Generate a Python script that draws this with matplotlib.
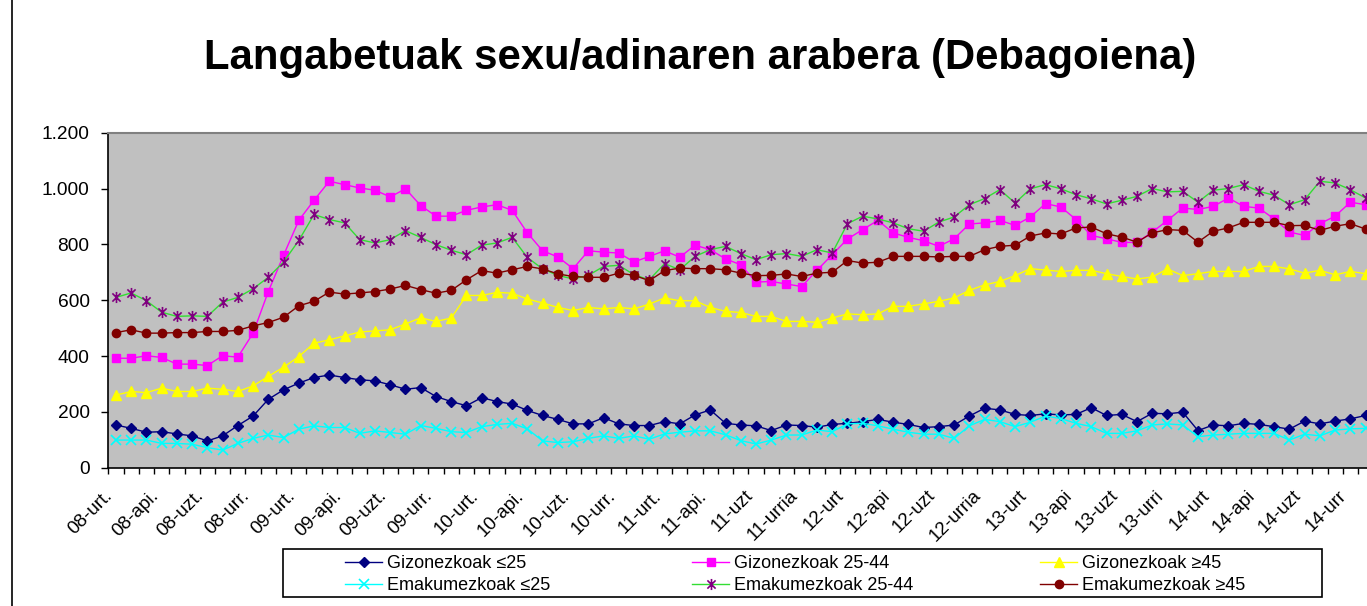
###################################
#     Modules                   ###
###################################

import numpy as np
import matplotlib
matplotlib.use('Agg')
import matplotlib.pyplot as plt
import matplotlib.transforms as mtrans
from matplotlib.path import Path
import matplotlib.patches as patches


###################################
#     Data                      ###
###################################

# months from 2008-01 (urt.) on, one value per month
tick_labels = ['08-urt.', '08-api.', '08-uzt.', '08-urr.',
               '09-urt.', '09-api.', '09-uzt.', '09-urr.',
               '10-urt.', '10-api.', '10-uzt.', '10-urr.',
               '11-urt.', '11-api.', '11-uzt', '11-urria',
               '12-urt', '12-api', '12-uzt', '12-urria',
               '13-urt', '13-api', '13-uzt', '13-urri',
               '14-urt', '14-api', '14-uzt', '14-urr']

giz_25 = [153, 141, 127, 129, 121, 114, 96, 114, 151, 185, 245, 279, 303, 323, 332, 323, 315, 311, 297, 281, 287,
          255, 237, 222, 251, 237, 228, 205, 187, 173, 157, 157, 179, 157, 151, 151, 165, 157, 189, 207, 159, 153,
          150, 133, 153, 151, 145, 155, 159, 165, 173, 163, 155, 144, 147, 153, 185, 213, 207, 191, 187, 193, 189,
          191, 215, 187, 191, 165, 195, 193, 199, 133, 153, 150, 159, 155, 147, 138, 167, 157, 167, 175, 187]

giz_25_44 = [392, 392, 401, 395, 371, 371, 366, 401, 396, 482, 631, 761, 886, 958, 1026, 1014, 1002, 994, 970, 999, 939,
             901, 901, 922, 934, 942, 922, 841, 777, 755, 713, 777, 772, 769, 737, 757, 777, 754, 797, 781, 748, 727,
             665, 667, 658, 649, 707, 763, 819, 853, 886, 841, 825, 813, 793, 820, 873, 877, 886, 868, 898, 946, 934,
             889, 832, 820, 807, 807, 844, 886, 930, 925, 936, 966, 936, 930, 891, 844, 832, 874, 901, 951, 942]

giz_45 = [260, 273, 269, 285, 273, 273, 285, 281, 273, 293, 327, 360, 398, 446, 458, 472, 486, 490, 494, 515, 537,
          524, 536, 617, 617, 628, 625, 604, 590, 574, 563, 574, 569, 574, 569, 586, 608, 598, 598, 574, 560, 556,
          542, 542, 524, 524, 521, 536, 551, 548, 551, 578, 578, 587, 596, 608, 635, 655, 667, 688, 713, 708, 703,
          707, 707, 695, 685, 676, 683, 712, 688, 695, 703, 703, 703, 721, 721, 712, 697, 707, 691, 703, 695]

ema_25 = [99, 99, 99, 87, 87, 84, 72, 63, 87, 105, 117, 108, 138, 150, 144, 144, 123, 132, 126, 120, 151,
          141, 129, 126, 147, 155, 159, 139, 96, 90, 93, 105, 114, 105, 114, 102, 121, 127, 132, 132, 118, 97,
          85, 99, 117, 117, 135, 129, 157, 159, 150, 138, 127, 120, 120, 105, 150, 173, 165, 147, 163, 185, 176,
          159, 147, 123, 123, 132, 153, 157, 153, 111, 117, 120, 123, 123, 123, 99, 120, 114, 135, 139, 141]

ema_25_44 = [610, 626, 598, 557, 542, 544, 542, 593, 610, 641, 682, 737, 814, 907, 889, 877, 817, 805, 817, 849, 825,
             799, 779, 763, 797, 805, 825, 753, 712, 689, 676, 689, 721, 725, 691, 673, 731, 709, 757, 781, 793, 767,
             745, 763, 767, 757, 781, 769, 874, 901, 891, 877, 856, 847, 880, 898, 942, 964, 996, 948, 999, 1014, 999,
             978, 963, 945, 958, 972, 1000, 988, 990, 951, 994, 1000, 1014, 990, 976, 942, 960, 1026, 1020, 996, 966]

ema_45 = [484, 494, 482, 482, 484, 484, 488, 488, 492, 508, 520, 539, 580, 596, 629, 622, 626, 631, 640, 653, 638,
          625, 635, 673, 706, 697, 709, 721, 712, 694, 685, 682, 682, 697, 689, 670, 706, 715, 713, 713, 709, 697,
          688, 689, 694, 685, 697, 700, 742, 733, 736, 757, 757, 757, 755, 757, 757, 781, 793, 797, 830, 841, 837,
          859, 862, 838, 826, 808, 841, 853, 850, 808, 847, 859, 879, 879, 879, 867, 868, 850, 865, 874, 855]

y_ticks = [0, 200, 400, 600, 800, 1000, 1200]
y_tick_labels = ['0', '200', '400', '600', '800', '1.000', '1.200']


###################################
#     Plot                      ###
###################################

plt.rcParams['font.family'] = ['Liberation Sans', 'DejaVu Sans']

W, H = 1367, 606
fig = plt.figure(figsize=(W / 100, H / 100), dpi=100)

# plot area runs past the right edge, as in the cropped original
n_cat = 84
left_px, right_px = 108.3, 108.3 + n_cat * 15.24
top_px, bot_px = 132.7, 467.7
ax = fig.add_axes([left_px / W, 1 - bot_px / H, (right_px - left_px) / W, (bot_px - top_px) / H])
ax.set_facecolor('#C0C0C0')

# excel-like asterisk marker
asterisk = Path([(-1, -1), (1, 1), (-1, 1), (1, -1), (0, -1.35), (0, 1.35)],
                [Path.MOVETO, Path.LINETO, Path.MOVETO, Path.LINETO, Path.MOVETO, Path.LINETO])

x = np.arange(len(giz_25))
series = [
    (giz_25, 'Gizonezkoak ≤25', '#000080', dict(marker='D', ms=5.5, mfc='#000080', mec='#000080')),
    (giz_25_44, 'Gizonezkoak 25-44', '#FF00FF', dict(marker='s', ms=6, mfc='#FF00FF', mec='#FF00FF')),
    (giz_45, 'Gizonezkoak ≥45', '#FFFF00', dict(marker='^', ms=7, mfc='#FFFF00', mec='#FFFF00')),
    (ema_25, 'Emakumezkoak ≤25', '#00FFFF', dict(marker='x', ms=6.5, mew=1.2, mec='#00FFFF')),
    (ema_25_44, 'Emakumezkoak 25-44', '#33DD33', dict(marker=asterisk, ms=8, mew=1.2, mec='#800080')),
    (ema_45, 'Emakumezkoak ≥45', '#800000', dict(marker='o', ms=6, mfc='#800000', mec='#800000')),
]
handles = {}
for vals, lab, col, mk in series:
    ln, = ax.plot(x, vals, color=col, lw=1.0, label=lab, **mk)
    handles[lab] = ln

ax.set_xlim(-0.5, n_cat - 0.5)
ax.set_ylim(0, 1200)

ax.set_yticks(y_ticks)
ax.set_yticklabels(y_tick_labels, fontsize=13.8)
ax.tick_params(axis='y', direction='out', length=5, width=1, pad=8.5)

ax.set_xticks(np.arange(0, len(tick_labels) * 3, 3))
ax.set_xticklabels(tick_labels, fontsize=13.6, rotation=45, ha='right', va='center', rotation_mode='anchor')
ax.set_xticks(np.arange(-0.5, n_cat, 1), minor=True)
ax.tick_params(axis='x', which='major', length=0, pad=24)
ax.tick_params(axis='x', which='minor', direction='out', length=4, width=1)

# nudge the slanted labels up and left
shift = mtrans.ScaledTranslation(-6 / 100, 8 / 100, fig.dpi_scale_trans)
for lab in ax.get_xticklabels():
    lab.set_transform(lab.get_transform() + shift)

for s in ['left', 'bottom']:
    ax.spines[s].set_color('black')
    ax.spines[s].set_linewidth(1.2)
ax.spines['top'].set_color('#808080')
ax.spines['top'].set_linewidth(1.5)
ax.spines['right'].set_visible(False)

fig.text(700 / W, 1 - 69 / H, 'Langabetuak sexu/adinaren arabera (Debagoiena)',
         fontsize=30.2, fontweight='bold', ha='center', va='baseline')

# legend: three columns placed where excel put them
cols = [(['Gizonezkoak ≤25', 'Emakumezkoak ≤25'], 345),
        (['Gizonezkoak 25-44', 'Emakumezkoak 25-44'], 692),
        (['Gizonezkoak ≥45', 'Emakumezkoak ≥45'], 1040)]
for names, x0 in cols:
    fig.legend([handles[k] for k in names], names, ncol=1, frameon=False,
               loc='upper left', bbox_to_anchor=(x0 / W, 1 - 555.5 / H),
               fontsize=13, handlelength=2.05, handletextpad=0.3,
               labelspacing=0.24, borderpad=0, borderaxespad=0, numpoints=1)
fig.patches.append(patches.Rectangle((282.7 / W, 1 - 596.7 / H), 1039.3 / W, 47.4 / H,
                                     fill=False, lw=1.2, ec='black', transform=fig.transFigure))

# chart border (left side only visible)
fig.add_artist(plt.Line2D([11.7 / W, 11.7 / W], [0, 1], color='black', lw=1.2, transform=fig.transFigure))

plt.savefig('out.png', dpi=100)
